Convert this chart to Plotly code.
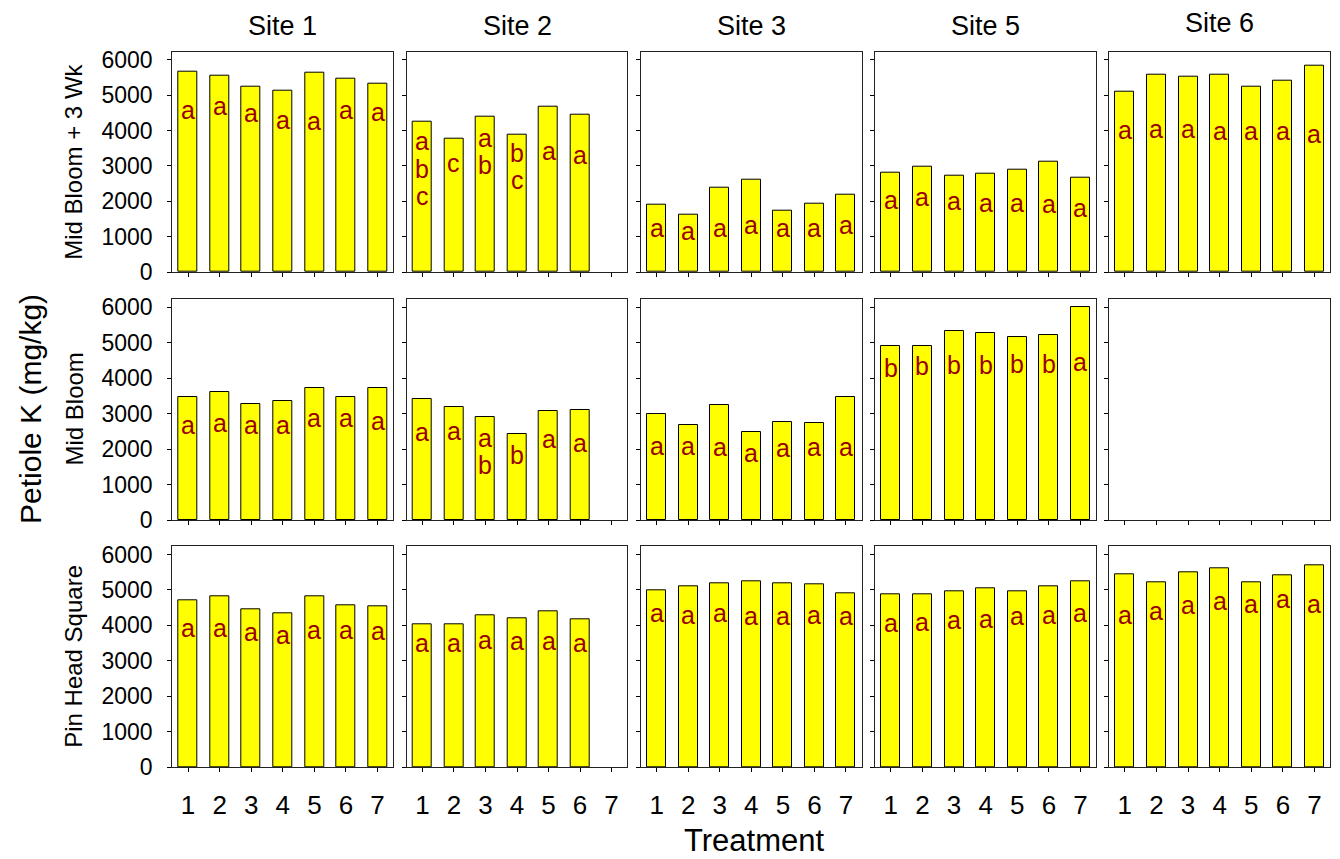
import plotly.graph_objects as go

# Petiole K (mg/kg) by treatment, for each sampling stage (rows) and site (columns)
treatments = [1, 2, 3, 4, 5, 6, 7]
sites = ["Site 1", "Site 2", "Site 3", "Site 5", "Site 6"]
stages = ["Mid Bloom + 3 Wk", "Mid Bloom", "Pin Head Square"]

# Mid Bloom + 3 Wk
mb3_site1 = [5670, 5548, 5227, 5114, 5642, 5472, 5312]
mb3_site2 = [4238, 3758, 4389, 3890, 4662, 4436, None]
mb3_site3 = [1893, 1629, 2392, 2618, 1742, 1921, 2176]
mb3_site5 = [2816, 2976, 2731, 2779, 2892, 3108, 2656]
mb3_site6 = [5086, 5576, 5510, 5576, 5237, 5416, 5821]

# Mid Bloom
mb_site1 = [3480, 3602, 3273, 3357, 3734, 3461, 3734]
mb_site2 = [3404, 3179, 2897, 2417, 3066, 3094, None]
mb_site3 = [3000, 2671, 3245, 2483, 2756, 2727, 3470]
mb_site5 = [4909, 4909, 5332, 5276, 5173, 5210, 5991]
mb_site6 = [None, None, None, None, None, None, None]

# Pin Head Square
phs_site1 = [4709, 4822, 4455, 4351, 4832, 4568, 4549]
phs_site2 = [4041, 4041, 4286, 4201, 4399, 4173, None]
phs_site3 = [5001, 5105, 5199, 5246, 5180, 5152, 4898]
phs_site5 = [4879, 4879, 4964, 5039, 4964, 5105, 5256]
phs_site6 = [5454, 5218, 5510, 5614, 5218, 5416, 5708]

# Mean-separation letters
mb3_let1 = ["a", "a", "a", "a", "a", "a", "a"]
mb3_let2 = ["abc", "c", "ab", "bc", "a", "a", ""]
mb3_let3 = ["a", "a", "a", "a", "a", "a", "a"]
mb3_let5 = ["a", "a", "a", "a", "a", "a", "a"]
mb3_let6 = ["a", "a", "a", "a", "a", "a", "a"]
mb_let1 = ["a", "a", "a", "a", "a", "a", "a"]
mb_let2 = ["a", "a", "ab", "b", "a", "a", ""]
mb_let3 = ["a", "a", "a", "a", "a", "a", "a"]
mb_let5 = ["b", "b", "b", "b", "b", "b", "a"]
mb_let6 = ["", "", "", "", "", "", ""]
phs_let1 = ["a", "a", "a", "a", "a", "a", "a"]
phs_let2 = ["a", "a", "a", "a", "a", "a", ""]
phs_let3 = ["a", "a", "a", "a", "a", "a", "a"]
phs_let5 = ["a", "a", "a", "a", "a", "a", "a"]
phs_let6 = ["a", "a", "a", "a", "a", "a", "a"]

# Vertical placement (data units) of the first letter inside each bar
mb3_pos1 = [4568, 4681, 4493, 4304, 4276, 4587, 4512]
mb3_pos2 = [3692, 3080, 3786, 3363, 3410, 3315, 0]
mb3_pos3 = [1243, 1149, 1243, 1337, 1243, 1243, 1337]
mb3_pos5 = [2044, 2110, 1997, 1950, 1950, 1921, 1808]
mb3_pos6 = [4022, 4041, 4041, 3975, 3975, 3975, 3909]
mb_pos1 = [2680, 2727, 2680, 2680, 2868, 2868, 2793]
mb_pos2 = [2492, 2520, 2323, 1834, 2276, 2182, 0]
mb_pos3 = [2088, 2088, 2050, 1881, 2022, 2050, 2050]
mb_pos5 = [4279, 4345, 4373, 4373, 4392, 4392, 4467]
mb_pos6 = [0, 0, 0, 0, 0, 0, 0]
phs_pos1 = [3928, 3928, 3805, 3720, 3862, 3881, 3833]
phs_pos2 = [3504, 3504, 3598, 3551, 3551, 3504, 0]
phs_pos3 = [4352, 4286, 4352, 4257, 4257, 4304, 4257]
phs_pos5 = [4069, 4097, 4163, 4191, 4257, 4286, 4352]
phs_pos6 = [4286, 4399, 4587, 4681, 4615, 4747, 4615]

values = [
    [mb3_site1, mb3_site2, mb3_site3, mb3_site5, mb3_site6],
    [mb_site1, mb_site2, mb_site3, mb_site5, mb_site6],
    [phs_site1, phs_site2, phs_site3, phs_site5, phs_site6],
]
letters = [
    [mb3_let1, mb3_let2, mb3_let3, mb3_let5, mb3_let6],
    [mb_let1, mb_let2, mb_let3, mb_let5, mb_let6],
    [phs_let1, phs_let2, phs_let3, phs_let5, phs_let6],
]
letter_pos = [
    [mb3_pos1, mb3_pos2, mb3_pos3, mb3_pos5, mb3_pos6],
    [mb_pos1, mb_pos2, mb_pos3, mb_pos5, mb_pos6],
    [phs_pos1, phs_pos2, phs_pos3, phs_pos5, phs_pos6],
]
letter_step = 772  # vertical spacing between stacked letters

W, H = 1340, 859
FONT = "Arial, Liberation Sans, sans-serif"
col_px = [(172.3, 393.3), (406.7, 627.3), (641, 861.7), (875, 1096.3), (1109, 1330.3)]
row_px = [(51.7, 272), (299, 520), (546.3, 767.3)]

fig = go.Figure()
layout = {}
annotations = []

for r in range(3):
    for c in range(5):
        k = r * 5 + c + 1
        xa = "x" if k == 1 else f"x{k}"
        ya = "y" if k == 1 else f"y{k}"
        fig.add_trace(go.Bar(
            x=treatments, y=values[r][c], xaxis=xa, yaxis=ya, width=0.6,
            marker=dict(color="#FFFF00", line=dict(color="#000000", width=1)),
            showlegend=False, hoverinfo="x+y",
        ))
        x0, x1 = col_px[c]
        y0, y1 = row_px[r]
        layout["xaxis" if k == 1 else f"xaxis{k}"] = dict(
            domain=[x0 / W, x1 / W], anchor=ya, range=[0.5, 7.5],
            tickmode="array", tickvals=treatments,
            showticklabels=(r == 2), ticks="outside", ticklen=4, tickwidth=1,
            tickcolor="#000", showline=True, linecolor="#222", linewidth=1.3,
            mirror=True, showgrid=False, zeroline=False,
            tickfont=dict(family=FONT, size=26, color="#000"),
            ticklabelstandoff=10,
        )
        layout["yaxis" if k == 1 else f"yaxis{k}"] = dict(
            domain=[1 - y1 / H, 1 - y0 / H], anchor=xa, range=[0, 6230],
            tickmode="array", tickvals=[0, 1000, 2000, 3000, 4000, 5000, 6000],
            showticklabels=(c == 0), ticks="outside", ticklen=4, tickwidth=1,
            tickcolor="#000", showline=True, linecolor="#222", linewidth=1.3,
            mirror=True, showgrid=False, zeroline=False,
            tickfont=dict(family=FONT, size=23, color="#000"),
            ticklabelstandoff=10,
        )
        for i, txt in enumerate(letters[r][c]):
            for j, ch in enumerate(txt):
                annotations.append(dict(
                    x=treatments[i], y=letter_pos[r][c][i] - j * letter_step,
                    xref=xa, yref=ya, text=ch, showarrow=False,
                    xanchor="center", yanchor="middle",
                    font=dict(family=FONT, size=25, color="#990000"),
                ))

# Column (site) headings
for c, name in enumerate(sites):
    x0, x1 = col_px[c]
    annotations.append(dict(
        x=(x0 + x1) / 2 / W, y=1 - (26 if c < 4 else 23) / H, xref="paper", yref="paper",
        text=name, showarrow=False, xanchor="center", yanchor="middle",
        font=dict(family=FONT, size=27, color="#000"),
    ))

# Row (stage) headings
for r, name in enumerate(stages):
    y0, y1 = row_px[r]
    annotations.append(dict(
        x=74 / W, y=1 - (y0 + y1) / 2 / H, xref="paper", yref="paper",
        text=name, showarrow=False, textangle=-90, xanchor="center", yanchor="middle",
        font=dict(family=FONT, size=24, color="#000"),
    ))

annotations.append(dict(
    x=30 / W, y=1 - 409 / H, xref="paper", yref="paper", text="Petiole K (mg/kg)",
    showarrow=False, textangle=-90, xanchor="center", yanchor="middle",
    font=dict(family=FONT, size=30, color="#000"),
))
annotations.append(dict(
    x=754 / W, y=1 - 840 / H, xref="paper", yref="paper", text="Treatment",
    showarrow=False, xanchor="center", yanchor="middle",
    font=dict(family=FONT, size=31, color="#000"),
))

fig.update_layout(
    width=W, height=H, margin=dict(l=0, r=0, t=0, b=0, autoexpand=False),
    paper_bgcolor="white", plot_bgcolor="white",
    annotations=annotations, bargap=0, **layout,
)

fig.write_html("out.html")
